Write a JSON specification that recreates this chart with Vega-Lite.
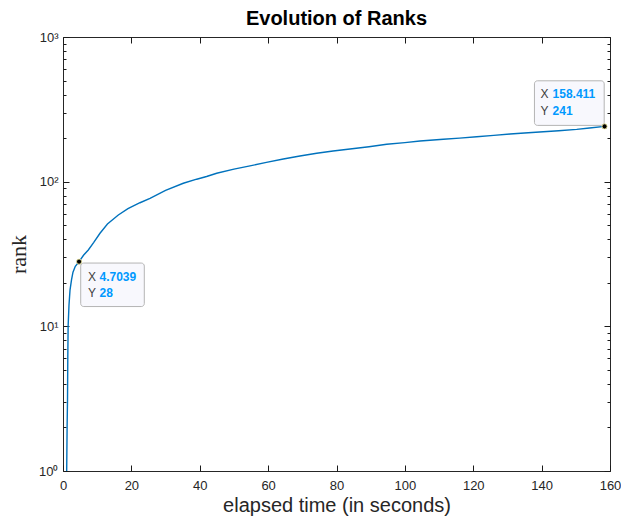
{
  "$schema": "https://vega.github.io/schema/vega-lite/v6.json",
  "width": 547,
  "height": 434,
  "autosize": {"type": "none"},
  "padding": {"left": 63, "top": 37, "right": 11, "bottom": 48},
  "background": "white",
  "view": {"stroke": "#262626", "strokeWidth": 1},
  "title": {"text": "Evolution of Ranks", "font": "Liberation Sans", "fontSize": 20, "fontWeight": "bold", "color": "#000000", "offset": 2, "anchor": "middle"},
  "config": {"axis": {"zindex": 1, "tickWidth": 1, "tickColor": "#1a1a1a", "grid": false}},
  "datasets": {
    "ranks": [
      {"t": 1.08, "rank": 1}, {"t": 1.2, "rank": 2}, {"t": 1.32, "rank": 3.1}, {"t": 1.4, "rank": 6}, {"t": 1.5, "rank": 10},
      {"t": 1.75, "rank": 14}, {"t": 2.05, "rank": 17.8}, {"t": 2.5, "rank": 21}, {"t": 2.92, "rank": 23.7}, {"t": 3.6, "rank": 26},
      {"t": 4.7039, "rank": 28}, {"t": 6, "rank": 31}, {"t": 7.4, "rank": 33.7}, {"t": 9, "rank": 38}, {"t": 10.82, "rank": 44},
      {"t": 13, "rank": 51}, {"t": 16.18, "rank": 58.8}, {"t": 19, "rank": 65}, {"t": 22.52, "rank": 71.5}, {"t": 25.45, "rank": 76.7},
      {"t": 30, "rank": 87}, {"t": 35.19, "rank": 97.5}, {"t": 39.11, "rank": 104}, {"t": 42, "rank": 108.5}, {"t": 44.96, "rank": 114.3},
      {"t": 50, "rank": 122}, {"t": 54.7, "rank": 128.5}, {"t": 59.5, "rank": 136}, {"t": 64.44, "rank": 143.5}, {"t": 69.3, "rank": 150.5},
      {"t": 74.21, "rank": 157.2}, {"t": 79, "rank": 163}, {"t": 83.95, "rank": 168.3}, {"t": 89.5, "rank": 174.5}, {"t": 94.68, "rank": 181.2},
      {"t": 100, "rank": 186}, {"t": 104.42, "rank": 190.9}, {"t": 111.24, "rank": 196.2}, {"t": 116, "rank": 200}, {"t": 121.01, "rank": 204.4},
      {"t": 126, "rank": 209}, {"t": 130.75, "rank": 213.4}, {"t": 135, "rank": 217}, {"t": 140.49, "rank": 221.4}, {"t": 145, "rank": 225},
      {"t": 150.26, "rank": 230}, {"t": 154, "rank": 235}, {"t": 158.411, "rank": 241}
    ],
    "tips": [{"t": 4.7039, "rank": 28}, {"t": 158.411, "rank": 241}],
    "boxes": [
      {"x1": 5.18, "x2": 23.78, "y1": 13.7, "y2": 27.38},
      {"x1": 137.9, "x2": 158.3, "y1": 244.9, "y2": 498}
    ],
    "keys": [
      {"x": 7.31, "y": 22.02, "label": "X"}, {"x": 7.31, "y": 17.07, "label": "Y"},
      {"x": 139.7, "y": 401.3, "label": "X"}, {"x": 139.7, "y": 309, "label": "Y"}
    ],
    "vals": [
      {"x": 10.68, "y": 22.02, "label": "4.7039"}, {"x": 10.68, "y": 17.07, "label": "28"},
      {"x": 143.2, "y": 401.3, "label": "158.411"}, {"x": 143.2, "y": 309, "label": "241"}
    ]
  },
  "resolve": {"axis": {"x": "independent", "y": "independent"}},
  "layer": [
    {
      "data": {"name": "ranks"},
      "mark": {"type": "line", "color": "#0072BD", "strokeWidth": 1.4, "clip": true},
      "encoding": {
        "x": {"field": "t", "type": "quantitative",
          "scale": {"domain": [0, 160], "nice": false, "zero": false},
          "axis": {"orient": "bottom", "values": [0, 20, 40, 60, 80, 100, 120, 140, 160], "offset": -6, "tickSize": 6, "domain": false, "labelPadding": 8, "labelFont": "Liberation Sans", "labelFontSize": 13, "labelColor": "#262626", "labelFlush": false, "labelOverlap": false,
            "title": "elapsed time (in seconds)", "titleFont": "Liberation Sans", "titleFontSize": 20, "titleFontWeight": "normal", "titleColor": "#262626", "titlePadding": 3}},
        "y": {"field": "rank", "type": "quantitative",
          "scale": {"type": "log", "domain": [1, 1000], "nice": false},
          "axis": {"orient": "left", "values": [1, 10, 100, 1000], "offset": -6, "tickSize": 6, "domain": false,
            "labelExpr": "'10' + ['⁰','¹','²','³'][round(log(datum.value)/LN10)]",
            "labelPadding": 5, "labelFont": "Liberation Sans", "labelFontSize": 13, "labelColor": "#262626", "labelOverlap": false, "labelFlush": false, "labelBound": false,
            "title": "rank", "titleFont": "Liberation Serif", "titleFontSize": 22, "titleFontWeight": "normal", "titleColor": "#262626", "titlePadding": 8}}
      }
    },
    {
      "data": {"name": "ranks"},
      "mark": {"type": "line", "strokeOpacity": 0},
      "encoding": {
        "x": {"field": "t", "type": "quantitative",
          "scale": {"domain": [0, 160], "nice": false, "zero": false},
          "axis": {"orient": "top", "values": [0, 20, 40, 60, 80, 100, 120, 140, 160], "offset": -6, "tickSize": 6, "domain": false, "labels": false, "title": null}},
        "y": {"field": "rank", "type": "quantitative",
          "scale": {"type": "log", "domain": [1, 1000], "nice": false},
          "axis": {"orient": "right", "values": [1, 10, 100, 1000], "offset": -6, "tickSize": 6, "domain": false, "labels": false, "title": null}}
      }
    },
    {
      "data": {"name": "ranks"},
      "mark": {"type": "line", "strokeOpacity": 0},
      "encoding": {
        "x": {"field": "t", "type": "quantitative", "scale": {"domain": [0, 160], "nice": false, "zero": false}, "axis": null},
        "y": {"field": "rank", "type": "quantitative",
          "scale": {"type": "log", "domain": [1, 1000], "nice": false},
          "axis": {"orient": "left", "values": [2,3,4,5,6,7,8,9,20,30,40,50,60,70,80,90,200,300,400,500,600,700,800,900], "offset": -3, "tickSize": 3, "labels": false, "domain": false, "title": null}}
      }
    },
    {
      "data": {"name": "ranks"},
      "mark": {"type": "line", "strokeOpacity": 0},
      "encoding": {
        "x": {"field": "t", "type": "quantitative", "scale": {"domain": [0, 160], "nice": false, "zero": false}, "axis": null},
        "y": {"field": "rank", "type": "quantitative",
          "scale": {"type": "log", "domain": [1, 1000], "nice": false},
          "axis": {"orient": "right", "values": [2,3,4,5,6,7,8,9,20,30,40,50,60,70,80,90,200,300,400,500,600,700,800,900], "offset": -3, "tickSize": 3, "labels": false, "domain": false, "title": null}}
      }
    },
    {
      "data": {"name": "boxes"},
      "mark": {"type": "rect", "fill": "#f8f8fd", "stroke": "#b4b4b4", "strokeWidth": 1, "cornerRadius": 3},
      "encoding": {
        "x": {"field": "x1", "type": "quantitative", "scale": {"domain": [0, 160], "nice": false, "zero": false}, "axis": null},
        "x2": {"field": "x2"},
        "y": {"field": "y1", "type": "quantitative", "scale": {"type": "log", "domain": [1, 1000], "nice": false}, "axis": null},
        "y2": {"field": "y2"}
      }
    },
    {
      "data": {"name": "keys"},
      "mark": {"type": "text", "align": "left", "baseline": "middle", "font": "Liberation Sans", "fontSize": 12, "color": "#404040"},
      "encoding": {
        "x": {"field": "x", "type": "quantitative", "scale": {"domain": [0, 160], "nice": false, "zero": false}, "axis": null},
        "y": {"field": "y", "type": "quantitative", "scale": {"type": "log", "domain": [1, 1000], "nice": false}, "axis": null},
        "text": {"field": "label"}
      }
    },
    {
      "data": {"name": "vals"},
      "mark": {"type": "text", "align": "left", "baseline": "middle", "font": "Liberation Sans", "fontSize": 12, "fontWeight": "bold", "color": "#0099FF"},
      "encoding": {
        "x": {"field": "x", "type": "quantitative", "scale": {"domain": [0, 160], "nice": false, "zero": false}, "axis": null},
        "y": {"field": "y", "type": "quantitative", "scale": {"type": "log", "domain": [1, 1000], "nice": false}, "axis": null},
        "text": {"field": "label"}
      }
    },
    {
      "data": {"name": "tips"},
      "mark": {"type": "point", "filled": true, "color": "#000000", "size": 26, "stroke": "#f5f0a0", "strokeWidth": 0.8, "opacity": 1},
      "encoding": {
        "x": {"field": "t", "type": "quantitative", "scale": {"domain": [0, 160], "nice": false, "zero": false}, "axis": null},
        "y": {"field": "rank", "type": "quantitative", "scale": {"type": "log", "domain": [1, 1000], "nice": false}, "axis": null}
      }
    }
  ]
}
